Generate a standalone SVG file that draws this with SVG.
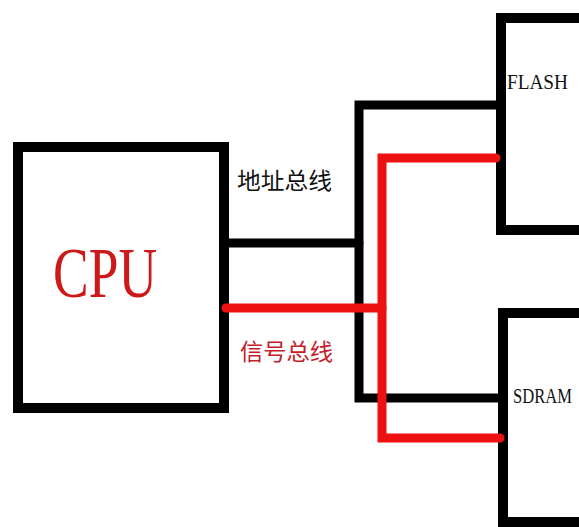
<svg xmlns="http://www.w3.org/2000/svg" width="579" height="527" viewBox="0 0 579 527">
  <style>
    .box { fill: #ffffff; stroke: #000000; stroke-width: 10; }
    .blk { fill: none; stroke: #000000; stroke-width: 9; stroke-linecap: round; stroke-linejoin: miter; }
    .red { fill: none; stroke: #ee1111; stroke-width: 9; stroke-linecap: round; stroke-linejoin: miter; }
    .mono { font-family: "Liberation Serif", "DejaVu Serif", serif; font-size: 21px; fill: #111111; }
    .cjk { font-family: "Noto Sans CJK SC", "Noto Sans CJK JP", sans-serif; font-size: 23px; }
  </style>
  <rect width="579" height="527" fill="#ffffff"/>
  <g id="cpu">
    <rect class="box" x="18" y="147" width="206" height="261"/>
    <text x="53" y="297" font-family="Liberation Serif, serif" font-size="72" fill="#cc1a1a" textLength="104" lengthAdjust="spacingAndGlyphs">CPU</text>
  </g>
  <g id="flash">
    <rect class="box" x="501" y="18" width="100" height="212"/>
    <text class="mono" x="507" y="89" textLength="61" lengthAdjust="spacingAndGlyphs">FLASH</text>
  </g>
  <g id="sdram">
    <rect class="box" x="503" y="313" width="100" height="209"/>
    <text class="mono" x="513" y="403" textLength="59" lengthAdjust="spacingAndGlyphs">SDRAM</text>
  </g>
  <g id="connectors">
    <polyline class="blk" points="229,243 359,243"/>
    <polyline class="blk" points="501,105 359,105 359,398 503,398"/>
    <polyline class="red" points="226,308 382,308"/>
    <polyline class="red" points="496,158 382,158 382,438 500,438"/>
  </g>
  <g id="labels">
    <text class="cjk" x="237" y="189" fill="#111111" textLength="95" lengthAdjust="spacingAndGlyphs">地址总线</text>
    <text class="cjk" x="240" y="360" fill="#c41e2a" textLength="93" lengthAdjust="spacingAndGlyphs">信号总线</text>
  </g>
</svg>
